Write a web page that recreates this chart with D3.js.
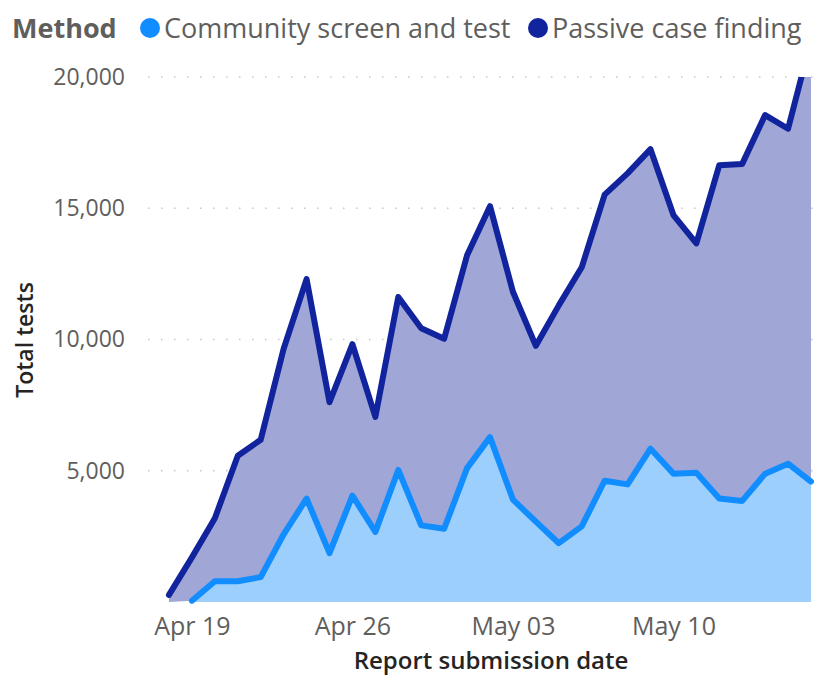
<!DOCTYPE html>
<html>
<head>
<meta charset="utf-8">
<script src="https://cdn.jsdelivr.net/npm/d3@7"></script>
<style>
  body { margin: 0; background: #fff; }
  svg { font-family: "Segoe UI", "Open Sans", sans-serif; }
</style>
</head>
<body>
<svg id="chart" width="821" height="676"></svg>
<script>
// Report dates, one per day (Apr 18 .. May 16)
const startDate = new Date(2020, 3, 18);
const dayCount = 29;

// Community screen and test (blank on the first day)
const communityTests = [null, 50, 790, 790, 950, 2580, 3940, 1860, 4050, 2670,
  5030, 2920, 2790, 5100, 6280, 3900, 3060, 2240, 2880, 4620,
  4480, 5840, 4890, 4920, 3940, 3850, 4890, 5270, 4590];

// Passive case finding (stacked on top of community)
const passiveTests = [270, 1650, 2400, 4780, 5230, 7070, 8360, 5750, 5770, 4380,
  6590, 7510, 7240, 8110, 8800, 7920, 6700, 9060, 9870, 10900,
  11850, 11410, 9850, 8740, 12700, 12840, 13660, 12760, 16810];

const yTicks = [5000, 10000, 15000, 20000];
const xTickDates = [new Date(2020, 3, 19), new Date(2020, 3, 26), new Date(2020, 4, 3), new Date(2020, 4, 10)];

const methods = ["Community screen and test", "Passive case finding"];
const lineColors = ["#118DFF", "#12239E"];
const fillColors = ["#9DCFFD", "#A0A6D6"];

const dates = d3.range(dayCount).map(i => d3.timeDay.offset(startDate, i));
const rows = dates.map((d, i) => ({
  date: d,
  community: communityTests[i] == null ? 0 : communityTests[i],
  passive: passiveTests[i],
  hasCommunity: communityTests[i] != null
}));

const svg = d3.select("#chart");

const x = d3.scaleTime()
  .domain([dates[0], dates[dates.length - 1]])
  .range([169, 811]);

const y = d3.scaleLinear()
  .domain([0, 20000])
  .range([602, 77]);

// clip so the last point runs off the top like the original
svg.append("clipPath").attr("id", "plotClip")
  .append("rect").attr("x", 140).attr("y", 77).attr("width", 675).attr("height", 530);

// dotted gridlines
svg.append("g")
  .selectAll("line")
  .data(yTicks)
  .join("line")
  .attr("x1", 148).attr("x2", 813)
  .attr("y1", d => y(d)).attr("y2", d => y(d))
  .attr("stroke", "#c8c6c4")
  .attr("stroke-width", 1.5)
  .attr("stroke-dasharray", "1.5,11.5");

// y axis labels
const yAxis = d3.axisLeft(y).tickValues(yTicks).tickFormat(d3.format(",")).tickSize(0).tickPadding(0);
svg.append("g")
  .attr("transform", "translate(125,0)")
  .call(yAxis)
  .call(g => g.select(".domain").remove())
  .call(g => g.selectAll("text")
    .attr("fill", "#605E5C")
    .style("font-size", "23px")
    .style("font-family", "'Segoe UI', 'Open Sans', sans-serif"));

// x axis labels
const xAxis = d3.axisBottom(x).tickValues(xTickDates).tickFormat(d3.timeFormat("%b %d")).tickSize(0).tickPadding(0);
svg.append("g")
  .attr("transform", "translate(0,617)")
  .call(xAxis)
  .call(g => g.select(".domain").remove())
  .call(g => g.selectAll("text")
    .attr("fill", "#605E5C")
    .style("font-size", "25px")
    .style("font-family", "'Segoe UI', 'Open Sans', sans-serif"));

// stacked areas
const stack = d3.stack().keys(["community", "passive"]);
const series = stack(rows);

const plot = svg.append("g").attr("clip-path", "url(#plotClip)");

const area = d3.area()
  .x(d => x(d.data.date))
  .y0(d => y(d[0]))
  .y1(d => y(d[1]));

// passive area (from community top to total)
plot.append("path")
  .datum(series[1])
  .attr("fill", fillColors[1])
  .attr("d", area);

// community area starts where its data starts
plot.append("path")
  .datum(series[0])
  .attr("fill", fillColors[0])
  .attr("d", area.defined(d => d.data.hasCommunity));

const line = d3.line()
  .x(d => x(d.data.date))
  .y(d => y(d[1]));

plot.append("path")
  .datum(series[1])
  .attr("fill", "none")
  .attr("stroke", lineColors[1])
  .attr("stroke-width", 6)
  .attr("stroke-linejoin", "round")
  .attr("stroke-linecap", "round")
  .attr("d", line);

plot.append("path")
  .datum(series[0])
  .attr("fill", "none")
  .attr("stroke", lineColors[0])
  .attr("stroke-width", 6)
  .attr("stroke-linejoin", "round")
  .attr("stroke-linecap", "round")
  .attr("d", line.defined(d => d.data.hasCommunity));

// axis titles
svg.append("text")
  .attr("transform", "translate(33,340) rotate(-90)")
  .attr("text-anchor", "middle")
  .attr("fill", "#252423")
  .style("font-size", "23px")
  .style("font-weight", "600")
  .text("Total tests");

svg.append("text")
  .attr("x", 491).attr("y", 669)
  .attr("text-anchor", "middle")
  .attr("fill", "#252423")
  .style("font-size", "24px")
  .style("font-weight", "600")
  .text("Report submission date");

// legend
const legend = svg.append("g");
legend.append("text")
  .attr("x", 12).attr("y", 38)
  .attr("fill", "#605E5C")
  .style("font-size", "27px")
  .style("font-weight", "bold")
  .text("Method");

const legendX = [150, 538];
methods.forEach((m, i) => {
  legend.append("circle")
    .attr("cx", legendX[i]).attr("cy", 28).attr("r", 10)
    .attr("fill", lineColors[i]);
  legend.append("text")
    .attr("x", legendX[i] + 14).attr("y", 38)
    .attr("fill", "#605E5C")
    .style("font-size", "27px")
    .text(m);
});
</script>
</body>
</html>
